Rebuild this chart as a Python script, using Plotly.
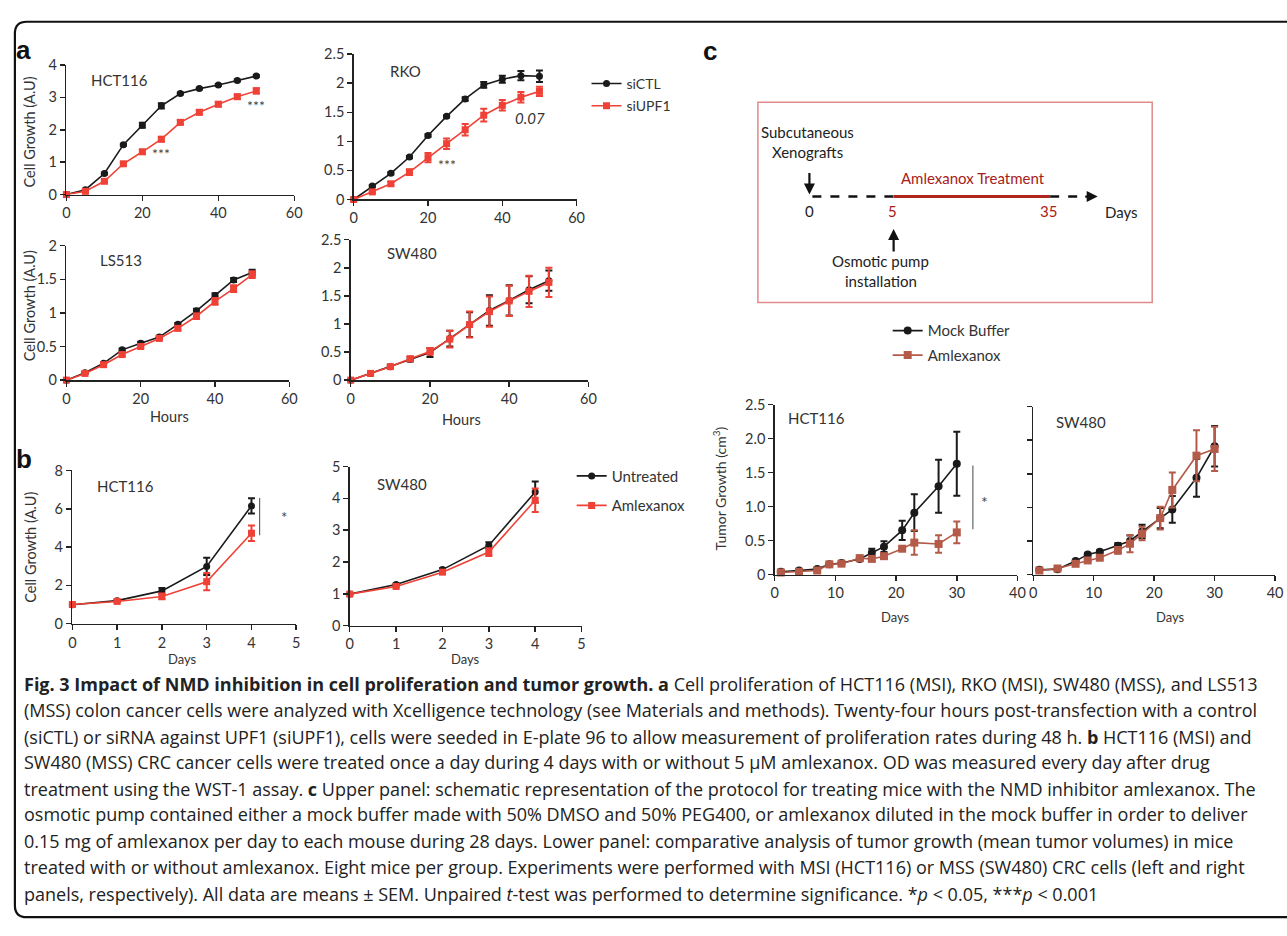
import plotly.graph_objects as go

W, H = 1287, 936

# ---------------- data ----------------
hours = [0, 5, 10, 15, 20, 25, 30, 35, 40, 45, 50]
hct_ctl = [0, 0.15, 0.65, 1.54, 2.14, 2.74, 3.12, 3.27, 3.38, 3.52, 3.66]
hct_ctl_err = [0, 0.02, 0.03, 0.03, 0.08, 0.08, 0.03, 0.03, 0.03, 0.03, 0.03]
hct_upf = [0, 0.10, 0.41, 0.95, 1.32, 1.71, 2.23, 2.54, 2.79, 3.02, 3.20]
hct_upf_err = [0, 0.02, 0.04, 0.05, 0.06, 0.07, 0.07, 0.07, 0.07, 0.07, 0.08]
rko_ctl = [0, 0.23, 0.45, 0.73, 1.10, 1.43, 1.73, 1.97, 2.07, 2.13, 2.12]
rko_ctl_err = [0, 0.02, 0.02, 0.02, 0.02, 0.02, 0.03, 0.05, 0.06, 0.08, 0.10]
rko_upf = [0, 0.13, 0.27, 0.47, 0.72, 0.96, 1.20, 1.45, 1.62, 1.76, 1.86]
rko_upf_err = [0, 0.02, 0.03, 0.05, 0.08, 0.09, 0.10, 0.11, 0.09, 0.09, 0.08]
ls_ctl = [0, 0.11, 0.25, 0.45, 0.55, 0.64, 0.83, 1.03, 1.26, 1.49, 1.60]
ls_ctl_err = [0, 0.01, 0.01, 0.02, 0.02, 0.02, 0.02, 0.03, 0.03, 0.03, 0.04]
ls_upf = [0, 0.10, 0.23, 0.38, 0.50, 0.62, 0.77, 0.95, 1.17, 1.36, 1.57]
ls_upf_err = [0, 0.01, 0.02, 0.02, 0.02, 0.02, 0.03, 0.04, 0.05, 0.05, 0.05]
sw_ctl = [0, 0.12, 0.24, 0.37, 0.49, 0.74, 0.99, 1.24, 1.42, 1.61, 1.77]
sw_ctl_err = [0, 0.01, 0.02, 0.04, 0.08, 0.14, 0.22, 0.27, 0.27, 0.24, 0.18]
sw_upf = [0, 0.12, 0.24, 0.38, 0.51, 0.73, 0.99, 1.22, 1.41, 1.58, 1.74]
sw_upf_err = [0, 0.01, 0.02, 0.04, 0.06, 0.15, 0.23, 0.27, 0.27, 0.28, 0.26]

days_b = [0, 1, 2, 3, 4]
b_hct_unt = [0.99, 1.20, 1.71, 2.99, 6.15]
b_hct_unt_err = [0.03, 0.05, 0.15, 0.45, 0.40]
b_hct_aml = [1.00, 1.16, 1.42, 2.19, 4.72]
b_hct_aml_err = [0.03, 0.05, 0.15, 0.45, 0.40]
b_sw_unt = [0.99, 1.29, 1.76, 2.52, 4.20]
b_sw_unt_err = [0.02, 0.03, 0.04, 0.10, 0.33]
b_sw_aml = [0.99, 1.23, 1.68, 2.31, 3.94]
b_sw_aml_err = [0.02, 0.03, 0.06, 0.12, 0.37]

days_c = [1, 4, 7, 9, 11, 14, 16, 18, 21, 23, 27, 30]
c_hct_mock = [0.04, 0.06, 0.08, 0.15, 0.17, 0.23, 0.32, 0.41, 0.65, 0.91, 1.30, 1.63]
c_hct_mock_err = [0.01, 0.01, 0.02, 0.02, 0.02, 0.03, 0.06, 0.08, 0.14, 0.27, 0.39, 0.47]
c_hct_aml = [0.03, 0.04, 0.06, 0.15, 0.16, 0.24, 0.23, 0.27, 0.38, 0.47, 0.45, 0.62]
c_hct_aml_err = [0.01, 0.01, 0.02, 0.02, 0.02, 0.04, 0.03, 0.03, 0.03, 0.18, 0.13, 0.16]
c_sw_mock = [0.07, 0.08, 0.20, 0.30, 0.34, 0.43, 0.50, 0.64, 0.84, 0.97, 1.44, 1.91]
c_sw_mock_err = [0.01, 0.01, 0.02, 0.02, 0.02, 0.04, 0.08, 0.10, 0.15, 0.20, 0.28, 0.30]
c_sw_aml = [0.06, 0.09, 0.16, 0.21, 0.25, 0.36, 0.46, 0.61, 0.84, 1.26, 1.77, 1.87]
c_sw_aml_err = [0.01, 0.01, 0.02, 0.02, 0.02, 0.05, 0.13, 0.10, 0.17, 0.26, 0.38, 0.33]

c_ytickvals = [0, 0.5, 1.0, 1.5, 2.0, 2.5]
c_yticktext = ["0", "0.5", "1.0", "1.5", "2.0", "2.5"]
timeline_labels = ["0", "5", "35"]

caption_lines = [
    "<b>Fig. 3 Impact of NMD inhibition in cell proliferation and tumor growth. a</b> Cell proliferation of HCT116 (MSI), RKO (MSI), SW480 (MSS), and LS513",
    "(MSS) colon cancer cells were analyzed with Xcelligence technology (see Materials and methods). Twenty-four hours post-transfection with a control",
    "(siCTL) or siRNA against UPF1 (siUPF1), cells were seeded in E-plate 96 to allow measurement of proliferation rates during 48 h. <b>b</b> HCT116 (MSI) and",
    "SW480 (MSS) CRC cancer cells were treated once a day during 4 days with or without 5 µM amlexanox. OD was measured every day after drug",
    "treatment using the WST-1 assay. <b>c</b> Upper panel: schematic representation of the protocol for treating mice with the NMD inhibitor amlexanox. The",
    "osmotic pump contained either a mock buffer made with 50% DMSO and 50% PEG400, or amlexanox diluted in the mock buffer in order to deliver",
    "0.15 mg of amlexanox per day to each mouse during 28 days. Lower panel: comparative analysis of tumor growth (mean tumor volumes) in mice",
    "treated with or without amlexanox. Eight mice per group. Experiments were performed with MSI (HCT116) or MSS (SW480) CRC cells (left and right",
    "panels, respectively). All data are means ± SEM. Unpaired <i>t</i>-test was performed to determine significance. *<i>p</i> < 0.05, ***<i>p</i> < 0.001",
]

# ---------------- style ----------------
BLACK = "#1a1a1a"
RED = "#EF4136"
BROWN = "#B45A48"
DARKRED = "#A8201A"
FONT = "Lato"
TXT = "#333333"


def px(x):
    return x / W


def py(y):
    return 1 - y / H


fig = go.Figure()


def add_axes(n, x0, x1, ybot, ytop, xr, yr, xdt, ydt, yticks=None, ylabels=True):
    common = dict(showline=True, linecolor="#222", linewidth=1.5, ticks="outside",
                  ticklen=5, tickcolor="#222", tickwidth=1.5, showgrid=False,
                  zeroline=False, tickfont=dict(family=FONT, size=14.5, color=TXT),
                  fixedrange=True)
    xa = dict(common, domain=[px(x0), px(x1)], range=xr, dtick=xdt, tick0=0,
              anchor="y" + ("" if n == 1 else str(n)))
    ya = dict(common, domain=[py(ybot), py(ytop)], range=yr,
              anchor="x" + ("" if n == 1 else str(n)), showticklabels=ylabels)
    if yticks is not None:
        ya.update(tickmode="array", tickvals=yticks[0], ticktext=yticks[1])
    else:
        ya.update(dtick=ydt, tick0=0)
    key = "" if n == 1 else str(n)
    fig.update_layout(**{"xaxis" + key: xa, "yaxis" + key: ya})


def add_series(n, x, y, err, color, symbol, name, legend, show, msize=7):
    key = "" if n == 1 else str(n)
    fig.add_trace(go.Scatter(
        x=x, y=y, mode="lines+markers", name=name,
        line=dict(color=color, width=1.6),
        marker=dict(symbol=symbol, size=msize, color=color),
        error_y=dict(type="data", array=err, color=color, thickness=2, width=3.5),
        xaxis="x" + key, yaxis="y" + key, cliponaxis=False,
        showlegend=show, legend=legend, legendgroup=name + legend,
    ))


# panel a
add_axes(1, 63, 293, 189, 57, [0, 60], [0, 4], 20, 1)
add_axes(2, 353, 578, 194, 46, [0, 60], [0, 2.5], 20, 0.5)
add_axes(3, 63, 288, 378, 241, [0, 60], [0, 2], 20, 0.5)
add_axes(4, 350, 590, 378, 235, [0, 60], [0, 2.5], 20, 0.5)
# panel b
add_axes(5, 69, 295, 626, 470, [0, 5], [0, 8], 1, 2)
add_axes(6, 349, 583, 628, 466, [0, 5], [0, 5], 1, 1)
# panel c
add_axes(7, 778, 1023, 576, 403, [0, 40], [0, 2.5], 10, 0.5, yticks=(c_ytickvals, c_yticktext))
add_axes(8, 1039, 1283, 576, 405, [0, 40], [0, 2.5], 10, 0.5, ylabels=False)

add_series(1, hours, hct_ctl, hct_ctl_err, BLACK, "circle", "siCTL", "legend", False)
add_series(1, hours, hct_upf, hct_upf_err, RED, "square", "siUPF1", "legend", False)
add_series(2, hours, rko_ctl, rko_ctl_err, BLACK, "circle", "siCTL", "legend", True)
add_series(2, hours, rko_upf, rko_upf_err, RED, "square", "siUPF1", "legend", True)
add_series(3, hours, ls_ctl, ls_ctl_err, BLACK, "circle", "siCTL", "legend", False)
add_series(3, hours, ls_upf, ls_upf_err, RED, "square", "siUPF1", "legend", False)
add_series(4, hours, sw_ctl, sw_ctl_err, BLACK, "circle", "siCTL", "legend", False)
add_series(4, hours, sw_upf, sw_upf_err, RED, "square", "siUPF1", "legend", False)

add_series(5, days_b, b_hct_unt, b_hct_unt_err, BLACK, "circle", "Untreated", "legend2", False)
add_series(5, days_b, b_hct_aml, b_hct_aml_err, RED, "square", "Amlexanox", "legend2", False)
add_series(6, days_b, b_sw_unt, b_sw_unt_err, BLACK, "circle", "Untreated", "legend2", True)
add_series(6, days_b, b_sw_aml, b_sw_aml_err, RED, "square", "Amlexanox", "legend2", True)

add_series(7, days_c, c_hct_mock, c_hct_mock_err, BLACK, "circle", "Mock Buffer", "legend3", True, 8)
add_series(7, days_c, c_hct_aml, c_hct_aml_err, BROWN, "square", "Amlexanox", "legend3", True, 8)
add_series(8, days_c, c_sw_mock, c_sw_mock_err, BLACK, "circle", "Mock Buffer", "legend3", False, 8)
add_series(8, days_c, c_sw_aml, c_sw_aml_err, BROWN, "square", "Amlexanox", "legend3", False, 8)

legend_common = dict(xanchor="left", yanchor="top", bgcolor="rgba(0,0,0,0)",
                     font=dict(family=FONT, size=14, color=TXT), tracegroupgap=1,
                     itemclick=False, itemdoubleclick=False)
fig.update_layout(
    legend=dict(legend_common, x=px(588), y=py(60)),
    legend2=dict(legend_common, x=px(573), y=py(459), tracegroupgap=7,
                 font=dict(family=FONT, size=15, color=TXT)),
    legend3=dict(legend_common, x=px(892), y=py(311), tracegroupgap=2,
                 font=dict(family=FONT, size=15, color=TXT)),
)

ann = []


def text(x, y, s, size=14, color=TXT, angle=0, xanchor="center", family=FONT, **kw):
    ann.append(dict(x=px(x), y=py(y), xref="paper", yref="paper", text=s, showarrow=False,
                    font=dict(family=family, size=size, color=color), textangle=angle,
                    xanchor=xanchor, yanchor="middle", **kw))


# subplot titles
text(117, 72, "HCT116", 15)
text(405, 63, "RKO", 15)
text(118, 256, "LS513", 15)
text(412, 249, "SW480", 15)
text(123, 486, "HCT116", 15)
text(402, 484, "SW480", 15)
text(820, 417, "HCT116", 15)
text(1087, 421, "SW480", 15)

# axis titles
text(26, 125, "Cell Growth (A.U)", 14.5, angle=-90)
text(26, 302, "Cell Growth (A.U)", 14.5, angle=-90)
text(26, 548, "Cell Growth (A.U)", 14.5, angle=-90)
text(722, 488, "Tumor Growth (cm<sup>3</sup>)", 14, angle=-90)
text(167, 415, "Hours", 14.5)
text(462, 418, "Hours", 14.5)
text(180, 662, "Days", 13)
text(466, 662, "Days", 13)
text(900, 619, "Days", 13)
text(1177, 619, "Days", 13)

# significance marks (data coordinates)
ann.append(dict(x=25, y=1.27, xref="x", yref="y", text="***", showarrow=False,
                font=dict(family=FONT, size=14, color="#444")))
ann.append(dict(x=50, y=2.74, xref="x", yref="y", text="***", showarrow=False,
                font=dict(family=FONT, size=14, color="#444")))
ann.append(dict(x=25, y=0.6, xref="x2", yref="y2", text="***", showarrow=False,
                font=dict(family=FONT, size=14, color="#444")))
ann.append(dict(x=47.5, y=1.40, xref="x2", yref="y2", text="<i>0.07</i>", showarrow=False,
                font=dict(family=FONT, size=15, color="#333")))
text(283, 517, "*", 15, color="#444")
text(990, 502, "*", 16, color="#444")

# panel letters
text(20, 42, "<b>a</b>", 26, color="#111", family="Liberation Sans")
text(20, 458, "<b>b</b>", 26, color="#111", family="Liberation Sans")
text(713, 43, "<b>c</b>", 26, color="#111", family="Liberation Sans")

# schematic texts
text(811, 125, "Subcutaneous", 15, color="#222")
text(811, 146, "Xenografts", 15, color="#222")
text(978, 172, "Amlexanox Treatment", 15, color=DARKRED)
text(813, 206, timeline_labels[0], 15, color="#222")
text(897, 206, timeline_labels[1], 15, color=DARKRED)
text(1054, 206, timeline_labels[2], 15, color=DARKRED)
text(1128, 207, "Days", 15, color="#222")
text(885, 257, "Osmotic pump", 15, color="#222")
text(885, 277, "installation", 15, color="#222")

# arrows
for (hx, hy, ax, ay) in [(813, 189, 0, -23), (898, 224, 0, 24), (1104, 191, -14, 0)]:
    ann.append(dict(x=px(hx), y=py(hy), xref="paper", yref="paper", text="", showarrow=True,
                    ax=ax, ay=ay, arrowhead=2, arrowsize=1, arrowwidth=2.2, arrowcolor="#111"))

# caption
cap_y = [687, 714, 741, 767, 794, 820, 847, 874, 901]
for yy, line in zip(cap_y, caption_lines):
    text(18, yy, line, 18, color="#222", xanchor="left", family="Open Sans")

shapes = []


def seg(x0, y0, x1, y1, color, width, dash="solid"):
    shapes.append(dict(type="line", xref="paper", yref="paper", x0=px(x0), y0=py(y0),
                       x1=px(x1), y1=py(y1), line=dict(color=color, width=width, dash=dash)))


# schematic box & timeline
shapes.append(dict(type="rect", xref="paper", yref="paper", x0=px(761), y0=py(299),
                   x1=px(1159), y1=py(95), line=dict(color="#E08A8A", width=1.5)))
seg(816, 191, 898, 191, "#111", 2.5, "dash")
seg(898, 191, 1056, 191, "#B0261E", 3)
seg(1056, 191, 1092, 191, "#111", 2.5, "dash")

# significance bars
seg(258, 498, 258, 536, "#666", 1.2)
seg(978, 465, 978, 530, "#666", 1.2)

# outer rounded border
r = 12
L, T, R, B = 11, 13, 1300, 925
path = (f"M {px(R)},{py(T)} L {px(L + r)},{py(T)} Q {px(L)},{py(T)} {px(L)},{py(T + r)} "
        f"L {px(L)},{py(B - r)} Q {px(L)},{py(B)} {px(L + r)},{py(B)} L {px(R)},{py(B)}")
shapes.append(dict(type="path", xref="paper", yref="paper", path=path,
                   line=dict(color="#111", width=2.2)))

fig.update_layout(
    width=W, height=H, margin=dict(l=0, r=0, t=0, b=0),
    paper_bgcolor="white", plot_bgcolor="rgba(0,0,0,0)",
    annotations=ann, shapes=shapes,
    font=dict(family=FONT, color=TXT),
)

fig.write_html("out.html", config={"displayModeBar": False, "staticPlot": True},
               post_script="document.body.style.margin='0px';document.body.style.overflow='hidden';")
